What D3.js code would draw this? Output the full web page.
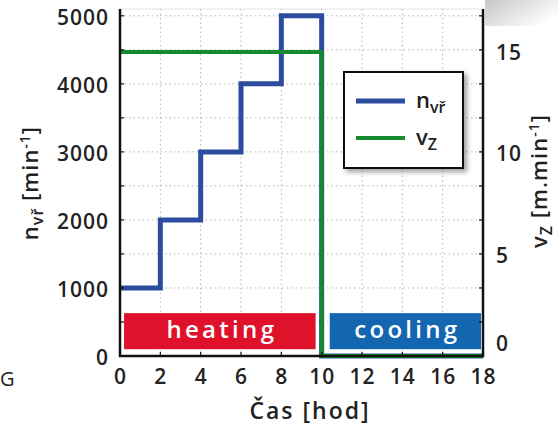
<!DOCTYPE html>
<html>
<head>
<meta charset="utf-8">
<script src="https://cdn.jsdelivr.net/npm/d3@7"></script>
<style>
  html, body { margin: 0; padding: 0; background: #fff; }
  svg { display: block; font-family: "Open Sans", "DejaVu Sans", sans-serif; }
</style>
</head>
<body>
<svg id="chart" width="558" height="425"></svg>
<script>
// ── Data ──────────────────────────────────────────────────────────────────────
const HOURS_N   = [0, 2, 4, 6, 8, 10, 18];
const N_VR      = [1000, 2000, 3000, 4000, 5000, 0, 0];   // step after each hour
const HOURS_V   = [0, 10, 18];
const V_Z       = [15, 0, 0];
const X_TICKS   = [0, 2, 4, 6, 8, 10, 12, 14, 16, 18];
const YL_TICKS  = [0, 1000, 2000, 3000, 4000, 5000];
const YR_TICKS  = [0, 5, 10, 15];
const GRID_Y    = d3.range(500, 5001, 500);
const PHASES    = ['heating', 'cooling'];
const PHASE_X0  = [0.2, 10.4];
const PHASE_X1  = [9.7, 17.9];
const PHASE_Y0  = 100;
const PHASE_Y1  = 630;

const BLUE  = '#2c4c9f';
const GREEN = '#17892f';
const PHASE_COLOR = { heating: '#e0122b', cooling: '#1566b0' };

// ── Scales ────────────────────────────────────────────────────────────────────
const L = 120, R = 483, T = 9, B = 356;
const x  = d3.scaleLinear().domain([0, 18]).range([L, R]);
const yL = d3.scaleLinear().domain([0, 5100]).range([B, T]);
const yR = d3.scaleLinear().domain([0, 17.12]).range([B, T]);

const svg = d3.select('#chart');
const defs = svg.append('defs');

// top-right shading left over from the original page
const grad = defs.append('linearGradient').attr('id', 'shade')
    .attr('x1', 0).attr('y1', 0).attr('x2', 1).attr('y2', 0.6);
grad.append('stop').attr('offset', 0).attr('stop-color', '#b8b8b8');
grad.append('stop').attr('offset', 1).attr('stop-color', '#fff');
svg.append('rect').attr('x', R + 2).attr('y', 0).attr('width', 558 - R).attr('height', 26)
    .attr('fill', 'url(#shade)').attr('opacity', 0.8);
svg.append('line').attr('x1', L).attr('x2', R).attr('y1', T).attr('y2', T)
    .attr('stroke', '#e4e4e4').attr('stroke-width', 1);

const shadow = defs.append('filter').attr('id', 'legend-shadow')
    .attr('x', '-20%').attr('y', '-20%').attr('width', '150%').attr('height', '150%');
shadow.append('feDropShadow').attr('dx', 3).attr('dy', 3)
    .attr('stdDeviation', 2.5).attr('flood-color', '#777').attr('flood-opacity', 0.7);

// ── Grid ──────────────────────────────────────────────────────────────────────
const grid = svg.append('g').attr('stroke', '#b5b5b5').attr('stroke-width', 1)
    .attr('stroke-dasharray', '1.5,3');
grid.selectAll('line.gy').data(GRID_Y).join('line')
    .attr('x1', L).attr('x2', R)
    .attr('y1', d => yL(d)).attr('y2', d => yL(d));
grid.selectAll('line.gx').data(X_TICKS.slice(1, -1)).join('line')
    .attr('x1', d => x(d)).attr('x2', d => x(d))
    .attr('y1', T).attr('y2', B);

// ── Phase bands ───────────────────────────────────────────────────────────────
svg.selectAll('rect.phase').data(PHASES).join('rect')
    .attr('class', 'phase')
    .attr('x', (_, i) => x(PHASE_X0[i]))
    .attr('width', (_, i) => x(PHASE_X1[i]) - x(PHASE_X0[i]))
    .attr('y', yL(PHASE_Y1))
    .attr('height', yL(PHASE_Y0) - yL(PHASE_Y1))
    .attr('fill', d => PHASE_COLOR[d]);

svg.selectAll('text.phase').data(PHASES).join('text')
    .attr('class', 'phase')
    .attr('x', (_, i) => (x(PHASE_X0[i]) + x(PHASE_X1[i])) / 2 + 2)
    .attr('y', yL((PHASE_Y0 + PHASE_Y1) / 2) + 7)
    .attr('text-anchor', 'middle')
    .attr('fill', '#fff')
    .attr('font-size', 24)
    .attr('font-weight', 600)
    .attr('letter-spacing', 3.3)
    .text(d => d);

// ── Lines ─────────────────────────────────────────────────────────────────────
const lineN = d3.line().curve(d3.curveStepAfter)
    .x((_, i) => x(HOURS_N[i])).y(d => yL(d));
const lineV = d3.line().curve(d3.curveStepAfter)
    .x((_, i) => x(HOURS_V[i])).y(d => yR(d));

svg.append('path').attr('d', lineN(N_VR))
    .attr('fill', 'none').attr('stroke', BLUE).attr('stroke-width', 5);
svg.append('path').attr('d', lineV(V_Z))
    .attr('fill', 'none').attr('stroke', GREEN).attr('stroke-width', 4);

// ── Axes ──────────────────────────────────────────────────────────────────────
const axisFont = g => g.selectAll('text')
    .attr('font-size', 21).attr('font-weight', 600).attr('fill', '#222')
    .attr('letter-spacing', 1)
    .attr('font-family', '"Open Sans", sans-serif');

const gx = svg.append('g').attr('transform', `translate(0,${B})`)
    .call(d3.axisBottom(x).tickValues(X_TICKS).tickFormat(d3.format('d'))
        .tickSize(0).tickPadding(13));
gx.call(axisFont);

const gl = svg.append('g').attr('transform', `translate(${L},0)`)
    .call(d3.axisLeft(yL).tickValues(YL_TICKS).tickFormat(d3.format('d'))
        .tickSize(0).tickPadding(11));
gl.call(axisFont);
gl.selectAll('text').attr('dy', '0.4em');

const gr = svg.append('g').attr('transform', `translate(${R},0)`)
    .call(d3.axisRight(yR).tickValues(YR_TICKS).tickFormat(d3.format('d'))
        .tickSize(0).tickPadding(13));
gr.call(axisFont);
gr.selectAll('text').attr('dy', d => d === 0 ? '-0.25em' : '0.35em');

[gx, gl, gr].forEach(g => g.select('.domain').remove());

// inward minor ticks
const ticks = svg.append('g').attr('stroke', '#111').attr('stroke-width', 1.2);
ticks.selectAll('line.tl').data(GRID_Y).join('line')
    .attr('x1', L).attr('x2', L + 4).attr('y1', d => yL(d)).attr('y2', d => yL(d));
ticks.selectAll('line.tr').data(GRID_Y).join('line')
    .attr('x1', R - 4).attr('x2', R).attr('y1', d => yL(d)).attr('y2', d => yL(d));
ticks.selectAll('line.tb').data(X_TICKS).join('line')
    .attr('x1', d => x(d)).attr('x2', d => x(d)).attr('y1', B - 4).attr('y2', B);

// axis frame (left, bottom, right)
svg.append('path')
    .attr('d', `M${L},${T}V${B}H${R}V${T}`)
    .attr('fill', 'none').attr('stroke', '#111').attr('stroke-width', 2.5);

// ── Axis titles ───────────────────────────────────────────────────────────────
svg.append('text')
    .attr('x', 310).attr('y', 419)
    .attr('text-anchor', 'middle')
    .attr('font-size', 23).attr('font-weight', 600).attr('fill', '#222')
    .attr('letter-spacing', 2)
    .text('Čas [hod]');

function axisTitle(tx, ty, main, sub, rest) {
    const t = svg.append('text')
        .attr('transform', `translate(${tx},${ty}) rotate(-90)`)
        .attr('text-anchor', 'middle')
        .attr('font-size', 22).attr('font-weight', 600).attr('fill', '#222')
        .attr('letter-spacing', 1);
    t.append('tspan').text(main);
    t.append('tspan').attr('font-size', 16).attr('dy', 5).text(sub);
    t.append('tspan').attr('dy', -5).text(rest);
    t.append('tspan').attr('font-size', 14).attr('dy', -8).text('-1');
    t.append('tspan').attr('dy', 8).text(']');
}
axisTitle(38, 183, 'n', 'vř', ' [min');
axisTitle(547, 181, 'v', 'Z', ' [m.min');

// stray glyph at the left edge
svg.append('text').attr('x', 0).attr('y', 386)
    .attr('font-size', 20).attr('fill', '#222').text('G');

// ── Legend ────────────────────────────────────────────────────────────────────
const LEGEND = [
    { main: 'n', sub: 'vř', color: BLUE,  width: 5 },
    { main: 'v', sub: 'Z',  color: GREEN, width: 4 },
];
const lg = svg.append('g').attr('transform', 'translate(344,72)');
lg.append('rect').attr('width', 119).attr('height', 96)
    .attr('fill', '#fff').attr('stroke', '#111').attr('stroke-width', 2)
    .attr('filter', 'url(#legend-shadow)');
const items = lg.selectAll('g.item').data(LEGEND).join('g')
    .attr('class', 'item')
    .attr('transform', (_, i) => `translate(0,${29 + i * 37})`);
items.append('line')
    .attr('x1', 12).attr('x2', 61)
    .attr('stroke', d => d.color).attr('stroke-width', d => d.width);
const lt = items.append('text')
    .attr('x', 72).attr('y', 7)
    .attr('font-size', 22).attr('font-weight', 600).attr('fill', '#222');
lt.append('tspan').text(d => d.main);
lt.append('tspan').attr('font-size', 16).attr('dy', 5).text(d => d.sub);
</script>
</body>
</html>
